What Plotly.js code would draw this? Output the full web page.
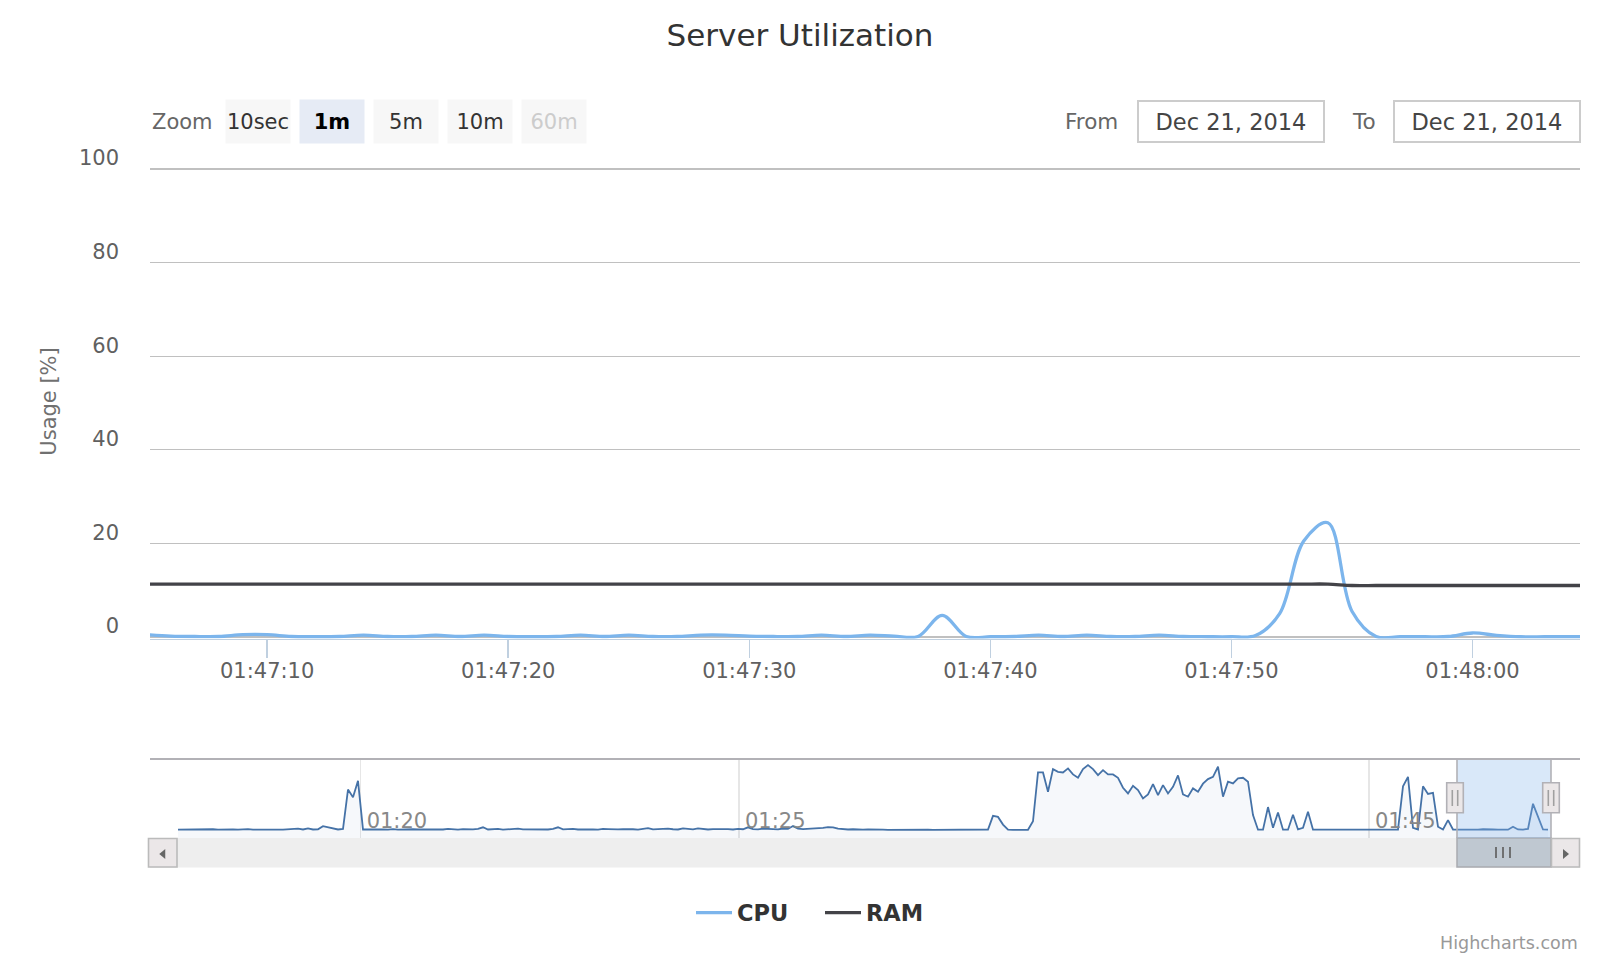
<!DOCTYPE html>
<html>
<head>
<meta charset="utf-8">
<script src="https://cdn.plot.ly/plotly-3.0.1.min.js"></script>
<style>
html,body{margin:0;padding:0;background:#fff;}
#chart{width:1600px;height:960px;}
</style>
</head>
<body>
<div id="chart"></div>
<script>
// ---------------- DATA ----------------
const chartTitle = 'Server Utilization';
const yAxisTitle = 'Usage [%]';
const seriesNames = ['CPU', 'RAM'];
const day = '2014-12-21';

const sampleTimes = [
  '01:47:05','01:47:06','01:47:07','01:47:08','01:47:09','01:47:10','01:47:11','01:47:12','01:47:13','01:47:14',
  '01:47:15','01:47:16','01:47:17','01:47:18','01:47:19','01:47:20','01:47:21','01:47:22','01:47:23','01:47:24',
  '01:47:25','01:47:26','01:47:27','01:47:28','01:47:29','01:47:30','01:47:31','01:47:32','01:47:33','01:47:34',
  '01:47:35','01:47:36','01:47:37','01:47:38','01:47:39','01:47:40','01:47:41','01:47:42','01:47:43','01:47:44',
  '01:47:45','01:47:46','01:47:47','01:47:48','01:47:49','01:47:50','01:47:51','01:47:52','01:47:53','01:47:54',
  '01:47:55','01:47:56','01:47:57','01:47:58','01:47:59','01:48:00','01:48:01','01:48:02','01:48:03','01:48:04',
  '01:48:05'
];

const cpuUsage = [
  0.5, 0.2, 0.1, 0.1, 0.5, 0.5, 0.1, 0.05, 0.1, 0.4,
  0.1, 0.1, 0.4, 0.1, 0.4, 0.1, 0.05, 0.1, 0.4, 0.1,
  0.4, 0.1, 0.1, 0.4, 0.4, 0.2, 0.1, 0.1, 0.4, 0.1,
  0.4, 0.2, 0.1, 4.6, 0.1, 0.05, 0.1, 0.4, 0.1, 0.4,
  0.1, 0.1, 0.4, 0.1, 0.05, 0.05, 0.3, 5.0, 20.5, 24.4,
  5.5, 0.1, 0.05, 0.05, 0.1, 0.85, 0.35, 0.05, 0.05, 0.05,
  0.05
];

const ramUsage = [
  11.3, 11.3, 11.3, 11.3, 11.3, 11.3, 11.3, 11.3, 11.3, 11.3,
  11.3, 11.3, 11.3, 11.3, 11.3, 11.3, 11.3, 11.3, 11.3, 11.3,
  11.3, 11.3, 11.3, 11.3, 11.3, 11.3, 11.3, 11.3, 11.3, 11.3,
  11.3, 11.3, 11.3, 11.3, 11.3, 11.3, 11.3, 11.3, 11.3, 11.3,
  11.3, 11.3, 11.3, 11.3, 11.3, 11.3, 11.3, 11.3, 11.3, 11.3,
  11.0, 11.0, 11.0, 11.0, 11.0, 11.0, 11.0, 11.0, 11.0, 11.0,
  11.0
];

// navigator (ordinal axis: points equally spaced)
const navCpu = [
  0.4, 0.5, 0.3, 0.6, 0.4, 0.3, 0.5, 0.7, 0.3, 0.5,
  0.4, 0.6, 0.3, 0.5, 0.8, 0.3, 0.4, 0.6, 0.3, 0.5,
  0.4, 0.3, 0.5, 0.4, 1.2, 0.5, 1.4, 0.5, 0.6, 3.5,
  2.5, 1.5, 0.5, 1.0, 37, 30, 45, 0.5, 0.6, 0.4,
  0.8, 0.5, 0.3, 0.9, 0.4, 0.6, 0.3, 0.7, 0.5, 0.4,
  0.9, 0.3, 0.6, 0.5, 1.0, 0.4, 0.3, 0.8, 0.5, 0.6,
  1.0, 2.5, 0.5, 0.6, 1.1, 0.4, 0.7, 0.5, 1.2, 0.6,
  0.5, 0.9, 0.4, 0.8, 0.5, 1.1, 2.5, 0.6, 0.8, 1.0,
  0.5, 0.7, 1.0, 0.6, 0.4, 1.0, 0.8, 0.5, 0.6, 0.9,
  0.5, 0.7, 0.4, 1.0, 1.8, 0.6, 0.8, 0.5, 1.2, 0.7,
  0.5, 1.5, 0.8, 0.6, 1.5, 0.7, 0.5, 0.9, 1.0, 0.6,
  0.8, 0.5, 1.0, 0.7, 2.5, 0.9, 0.6, 1.2, 0.8, 1.0,
  0.6, 1.4, 1.0, 3.6, 1.2, 0.8, 1.0, 1.5, 1.2, 2.0,
  2.7, 2.5, 1.2, 0.8, 0.5, 0.7, 0.4, 0.3, 0.6, 0.3,
  0.4, 0.3, 0.2, 0.3, 0.2, 0.3, 0.2, 0.2, 0.3, 0.2,
  0.3, 0.2, 0.2, 0.3, 0.2, 0.3, 0.2, 0.2, 0.3, 0.2,
  0.2, 0.3, 0.5, 13, 12, 5, 0.3, 0.2, 0.3, 0.2,
  0.2, 8, 52.7, 52.7, 35, 55.7, 53.3, 52.7, 56.4, 50.9,
  47.8, 55.7, 59.4, 55.7, 50.3, 54.8, 50.9, 50.9, 47.8, 38.7,
  33.5, 40.5, 36.6, 29, 32.6, 42, 32, 41.1, 33.5, 39.6,
  50, 32.6, 30.5, 38.1, 35, 42.4, 46.6, 48.7, 57.9, 30.5,
  44.2, 42.7, 47.2, 47.8, 44.2, 13.7, 0.3, 0.3, 21, 2,
  16, 0.3, 0.3, 14, 0.5, 2, 16.8, 0.3, 0.3, 0.5,
  0.3, 0.4, 0.3, 0.5, 0.3, 0.4, 0.3, 0.3, 0.5, 0.3,
  0.4, 0.3, 0.5, 0.3, 0.5, 40, 48.7, 2, 0.5, 40,
  33, 34, 3, 0.5, 9, 0.5, 0.4, 0.6, 0.3, 0.5,
  0.4, 0.7, 0.3, 0.5, 0.4, 0.6, 0.3, 3, 0.5, 0.4,
  1, 24, 12, 0.5, 0.4
];
const navTickPositions = [36.53, 112.2, 238.2];
const navTickLabels = ['01:20', '01:25', '01:45'];

const yTickValues = [0, 20, 40, 60, 80, 100];
const zoomLabel = 'Zoom';
const zoomButtons = ['10sec', '1m', '5m', '10m', '60m'];
const selectedButton = '1m';
const disabledButton = '60m';
const fromLabel = 'From', toLabel = 'To';
const dateFrom = 'Dec 21, 2014', dateTo = 'Dec 21, 2014';
const creditText = 'Highcharts.com';

// ---------------- LAYOUT HELPERS ----------------
const W = 1600, H = 960;
const px = x => x / W;
const py = y => 1 - y / H;
const FONT = 'DejaVu Sans';

const xTimes = sampleTimes.map(t => day + ' ' + t);

const traces = [
  {
    x: xTimes, y: cpuUsage, name: seriesNames[0], type: 'scatter', mode: 'lines',
    xaxis: 'x', yaxis: 'y',
    line: {color: '#7cb5ec', width: 3.3, shape: 'spline', smoothing: 1},
    hoverinfo: 'skip'
  },
  {
    x: xTimes, y: ramUsage, name: seriesNames[1], type: 'scatter', mode: 'lines',
    xaxis: 'x', yaxis: 'y',
    line: {color: '#434348', width: 3.3, shape: 'spline', smoothing: 1},
    hoverinfo: 'skip'
  },
  {
    x: [0, navCpu.length - 1], y: [-20, -20], type: 'scatter', mode: 'lines',
    xaxis: 'x2', yaxis: 'y2', line: {width: 0, color: 'rgba(0,0,0,0)'},
    showlegend: false, hoverinfo: 'skip'
  },
  {
    y: navCpu, type: 'scatter', mode: 'lines', xaxis: 'x2', yaxis: 'y2',
    line: {color: '#4572A7', width: 1.8, shape: 'linear'},
    fill: 'tonexty', fillcolor: 'rgba(69,114,167,0.05)',
    showlegend: false, hoverinfo: 'skip'
  }
];

// navigator geometry (pixels)
const NAV_TOP = 759, NAV_BOT = 838, SB_BOT = 867.5;
const SEL_L = 1457, SEL_R = 1551;

const shapes = [];
// scrollbar track
shapes.push({type: 'rect', xref: 'paper', yref: 'paper', x0: px(150), x1: px(1580), y0: py(SB_BOT), y1: py(NAV_BOT),
  fillcolor: '#eeeeee', line: {width: 0}, layer: 'below'});
// scrollbar thumb
shapes.push({type: 'rect', xref: 'paper', yref: 'paper', x0: px(SEL_L), x1: px(SEL_R), y0: py(SB_BOT - 0.5), y1: py(NAV_BOT),
  fillcolor: '#bfc8d1', line: {color: '#a9aab0', width: 1.5}});
[1496, 1503, 1510].forEach(xr => shapes.push({type: 'line', xref: 'paper', yref: 'paper',
  x0: px(xr), x1: px(xr), y0: py(847), y1: py(858), line: {color: '#666', width: 1.8}}));
// buttons
function btn(x0, x1, arrowDir) {
  shapes.push({type: 'rect', xref: 'paper', yref: 'paper', x0: px(x0), x1: px(x1), y0: py(867), y1: py(838.5),
    fillcolor: '#ebe7e8', line: {color: '#bbbbbb', width: 1.6}});
  const cx = (x0 + x1) / 2;
  let p;
  if (arrowDir < 0) p = `M ${px(cx - 3.5)} ${py(854)} L ${px(cx + 2.5)} ${py(849)} L ${px(cx + 2.5)} ${py(859)} Z`;
  else p = `M ${px(cx + 3.5)} ${py(854)} L ${px(cx - 2.5)} ${py(849)} L ${px(cx - 2.5)} ${py(859)} Z`;
  shapes.push({type: 'path', xref: 'paper', yref: 'paper', path: p, fillcolor: '#666', line: {width: 0}});
}
btn(148.5, 177, -1);
btn(1551.5, 1579.5, 1);
// selection mask
shapes.push({type: 'rect', xref: 'paper', yref: 'paper', x0: px(SEL_L), x1: px(SEL_R), y0: py(NAV_BOT), y1: py(NAV_TOP),
  fillcolor: 'rgba(128,179,236,0.3)', line: {width: 0}, layer: 'above'});
// outline
shapes.push({type: 'line', xref: 'paper', yref: 'paper', x0: px(150), x1: px(1580), y0: py(NAV_TOP), y1: py(NAV_TOP),
  line: {color: '#b2b1b6', width: 2}});
[SEL_L, SEL_R].forEach(xv => shapes.push({type: 'line', xref: 'paper', yref: 'paper', x0: px(xv), x1: px(xv),
  y0: py(NAV_TOP), y1: py(NAV_BOT), line: {color: '#b2b1b6', width: 1.6}}));
// handles
function handle(cx) {
  shapes.push({type: 'rect', xref: 'paper', yref: 'paper', x0: px(cx - 8.3), x1: px(cx + 8.3), y0: py(812.7), y1: py(782.7),
    fillcolor: '#ebe7e8', line: {color: '#b2b1b6', width: 1.6}});
  [cx - 2.7, cx + 2.7].forEach(xv => shapes.push({type: 'line', xref: 'paper', yref: 'paper', x0: px(xv), x1: px(xv),
    y0: py(806), y1: py(790), line: {color: '#a0a0a0', width: 1.6}}));
}
handle(1455);
handle(1551);

const annotations = [];
const BTN_Y = 121.5;
annotations.push({text: zoomLabel, xref: 'paper', yref: 'paper', x: px(150), y: py(BTN_Y), xanchor: 'left', yanchor: 'middle',
  showarrow: false, font: {family: FONT, size: 21, color: '#666'}});
const btnCenters = [258, 332, 406, 480, 554];
zoomButtons.forEach((b, i) => {
  const sel = b === selectedButton, dis = b === disabledButton;
  annotations.push({text: sel ? '<b>' + b + '</b>' : b, xref: 'paper', yref: 'paper', x: px(btnCenters[i]), y: py(BTN_Y),
    xanchor: 'center', yanchor: 'middle', showarrow: false, width: 64, height: 43, borderpad: 0,
    bgcolor: sel ? '#e6ebf5' : '#f7f7f7',
    font: {family: FONT, size: 21, color: sel ? '#000' : (dis ? '#cccccc' : '#333')}});
});
annotations.push({text: fromLabel, xref: 'paper', yref: 'paper', x: px(1063), y: py(BTN_Y), xanchor: 'left', yanchor: 'middle',
  showarrow: false, font: {family: FONT, size: 21.5, color: '#666'}});
annotations.push({text: toLabel, xref: 'paper', yref: 'paper', x: px(1350), y: py(BTN_Y), xanchor: 'left', yanchor: 'middle',
  showarrow: false, font: {family: FONT, size: 21.5, color: '#666'}});
[[dateFrom, 1231], [dateTo, 1487]].forEach(([t, cx]) => annotations.push({text: t, xref: 'paper', yref: 'paper',
  x: px(cx), y: py(BTN_Y), xanchor: 'center', yanchor: 'middle', showarrow: false, width: 184, height: 39, borderpad: 0,
  bordercolor: '#cccccc', borderwidth: 2, bgcolor: '#fff', font: {family: FONT, size: 22.5, color: '#444'}}));
annotations.push({text: creditText, xref: 'paper', yref: 'paper', x: px(1580), y: py(943), xanchor: 'right', yanchor: 'middle',
  showarrow: false, font: {family: FONT, size: 17.5, color: '#999'}});

const layout = {
  width: W, height: H,
  margin: {l: 0, r: 0, t: 0, b: 0},
  paper_bgcolor: '#ffffff', plot_bgcolor: 'rgba(0,0,0,0)',
  font: {family: FONT, color: '#333'},
  hovermode: false,
  title: {text: chartTitle, x: 0.5, xanchor: 'center', xref: 'container', y: py(35), yref: 'container', yanchor: 'middle',
    font: {family: FONT, size: 31, color: '#333'}},
  showlegend: true,
  legend: {orientation: 'h', traceorder: 'normal', x: px(691), xanchor: 'left', y: py(913), yanchor: 'middle',
    itemwidth: 36, entrywidth: 78, entrywidthmode: 'pixels',
    font: {family: FONT, size: 22.5, color: '#333', weight: 'bold'}, bgcolor: 'rgba(0,0,0,0)', itemclick: false, itemdoubleclick: false},
  xaxis: {
    type: 'date', domain: [px(150), px(1580)], anchor: 'y',
    range: [day + ' 01:47:05.14', day + ' 01:48:04.46'],
    dtick: 10000, tickformat: '%H:%M:%S',
    ticks: 'outside', ticklen: 18, tickwidth: 1.5, tickcolor: '#C0D0E0',
    showline: true, linecolor: '#C0D0E0', linewidth: 1.5,
    showgrid: false, zeroline: false, fixedrange: true, ticklabelstandoff: -5,
    tickfont: {family: FONT, size: 21, color: '#606060'}
  },
  yaxis: {
    domain: [py(638.6), py(164.3)], anchor: 'x', range: [-0.35, 101],
    tickvals: yTickValues, ticks: '', showline: false, zeroline: false,
    showgrid: true, gridcolor: '#C0C0C0', gridwidth: 1.3, fixedrange: true,
    tickfont: {family: FONT, size: 21, color: '#606060'},
    ticklabelshift: -11, ticklabelstandoff: 30,
    title: {text: yAxisTitle, font: {family: FONT, size: 21, color: '#707070'}, standoff: 16}
  },
  xaxis2: {
    domain: [px(178), px(1551)], anchor: 'y2', range: [0, 274.6],
    tickvals: navTickPositions, ticktext: navTickLabels,
    showgrid: true, gridcolor: '#e6e6e6', gridwidth: 1.5,
    ticks: '', ticklabelposition: 'inside right', ticklabelshift: 6, showline: false, zeroline: false, fixedrange: true,
    tickfont: {family: FONT, size: 21, color: '#888'}
  },
  yaxis2: {
    domain: [py(NAV_BOT), py(NAV_TOP)], anchor: 'x2', range: [-7.3, 65],
    showgrid: false, showticklabels: false, zeroline: false, ticks: '', fixedrange: true
  },
  shapes: shapes,
  annotations: annotations
};

Plotly.newPlot('chart', traces, layout, {displayModeBar: false, staticPlot: true});
</script>
</body>
</html>
